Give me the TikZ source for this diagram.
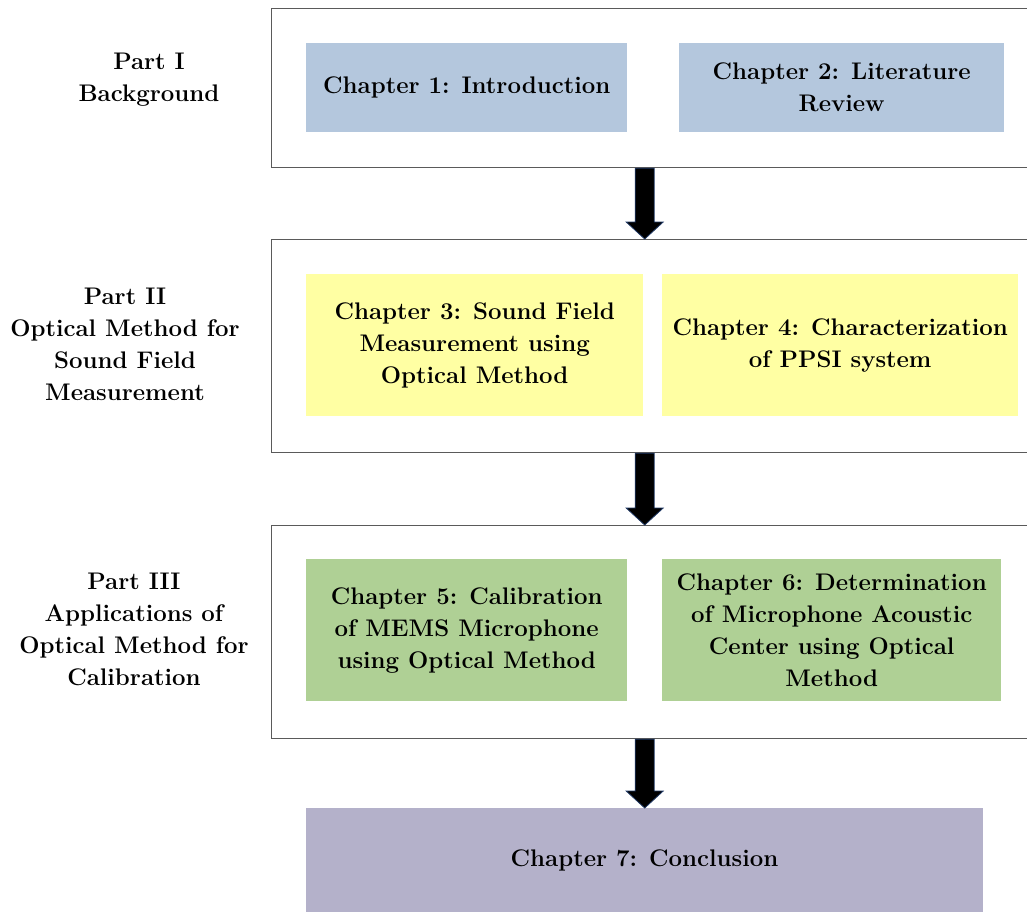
\documentclass[tikz,border=0pt]{standalone}
\usetikzlibrary{calc}
\definecolor{cblue}{HTML}{B4C7DD}
\definecolor{cyellow}{HTML}{FFFFA3}
\definecolor{cgreen}{HTML}{AFD095}
\definecolor{cpurple}{HTML}{B4B1CA}
\definecolor{framegray}{HTML}{5A5A5A}
\definecolor{arrowblue}{HTML}{1F3864}
\begin{document}
\begin{tikzpicture}[x=1pt,y=-1pt,
  font=\fontsize{24}{32}\selectfont\bfseries,
  frame/.style={draw=framegray, line width=1.2pt, anchor=north west, inner sep=0pt, minimum width=790pt},
  chap/.style={anchor=north west, inner sep=0pt, align=center, text=black},
  part/.style={align=center, inner sep=0pt},
  bigarrow/.style={fill=black, draw=arrowblue, line width=0.8pt}]
\useasboundingbox (0,0) rectangle (1027,911);
% frames
\node[frame, minimum height=159pt] (f1) at (271,8) {};
\node[frame, minimum height=213pt] (f2) at (271,239) {};
\node[frame, minimum height=213pt] (f3) at (271,525) {};
% chapters
\node[chap, fill=cblue, minimum width=321pt, minimum height=89pt] (c1) at (306,43) {Chapter 1: Introduction};
\node[chap, fill=cblue, minimum width=325pt, minimum height=89pt] (c2) at (679,43) {Chapter 2: Literature\\Review};
\node[chap, fill=cyellow, minimum width=337pt, minimum height=142pt] (c3) at (306,274) {Chapter 3: Sound Field\\Measurement using\\Optical Method};
\node[chap, fill=cyellow, minimum width=356pt, minimum height=142pt] (c4) at (662,274) {Chapter 4: Characterization\\of PPSI system};
\node[chap, fill=cgreen, minimum width=321pt, minimum height=142pt] (c5) at (306,559) {Chapter 5: Calibration\\of MEMS Microphone\\using Optical Method};
\node[chap, fill=cgreen, minimum width=339pt, minimum height=142pt] (c6) at (662,559) {Chapter 6: Determination\\of Microphone Acoustic\\Center using Optical\\Method};
\node[chap, fill=cpurple, minimum width=677pt, minimum height=110pt] (c7) at (306,808) {};
\node[inner sep=0pt] (c7t) at (644.5,860) {Chapter 7: Conclusion};
% part labels
\node[part] (p1) at (149,80) {Part I\\Background};
\node[part] (p2) at (125,344.5) {Part II\\Optical Method for\\Sound Field\\Measurement};
\node[part] (p3) at (134,629.5) {Part III\\Applications of\\Optical Method for\\Calibration};
% arrows
\foreach \a/\b in {f1/f2, f2/f3, f3/c7}{
  \draw[bigarrow] let \p1=(\a.south -| c7.north), \p2=(\b.north -| c7.north) in
    (\x1-9.5pt,\y1) -- (\x1-9.5pt,\y2+17pt) -- (\x1-18.5pt,\y2+17pt) -- (\x1,\y2)
    -- (\x1+18.5pt,\y2+17pt) -- (\x1+9.5pt,\y2+17pt) -- (\x1+9.5pt,\y1) -- cycle;
}
\end{tikzpicture}
\end{document}
